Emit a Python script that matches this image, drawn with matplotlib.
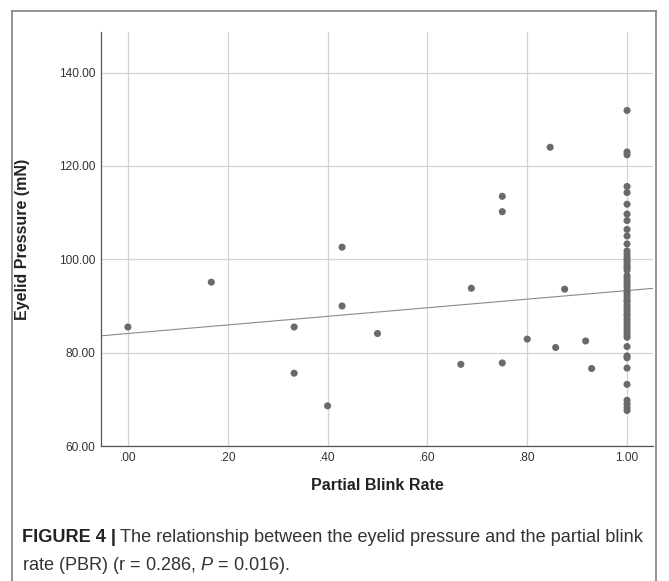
import matplotlib
matplotlib.use("Agg")
import matplotlib.pyplot as plt
from matplotlib.lines import Line2D

# Pontos fora de PBR = 1.00
pbr_outros = [0.0, 0.167, 0.333, 0.333, 0.40, 0.429, 0.429, 0.50, 0.667, 0.688,
              0.75, 0.75, 0.75, 0.80, 0.846, 0.857, 0.875, 0.917, 0.929]
pressao_outros = [85.5, 95.1, 85.5, 75.6, 68.6, 102.6, 90.0, 84.1, 77.5, 93.8,
                  113.5, 110.2, 77.8, 82.9, 124.0, 81.1, 93.6, 82.5, 76.6]

# Coluna em PBR = 1.00
pressao_pbr1 = [131.9, 123.0, 122.4, 115.6, 114.3, 111.8, 109.7, 108.3, 106.4, 105.0, 103.3,
                101.8, 101.1, 100.4, 99.8, 99.3, 98.7, 98.2, 97.7,
                96.5, 95.9, 95.2, 94.6, 94.0, 93.3, 92.7, 92.1, 91.4, 90.9, 90.2, 89.6,
                89.0, 88.3, 87.8, 87.1, 86.5, 85.9, 85.2, 84.6, 83.9, 83.3,
                81.3, 79.3, 78.9, 76.7, 73.2, 69.8, 69.0, 68.3, 67.6]

# Reta de regressao
reta_intercepto = 84.1
reta_inclinacao = 9.2

x_ticks = [0.0, 0.2, 0.4, 0.6, 0.8, 1.0]
x_labels = ['.00', '.20', '.40', '.60', '.80', '1.00']
y_ticks = [60, 80, 100, 120, 140]
y_labels = ['60.00', '80.00', '100.00', '120.00', '140.00']

pbr = pbr_outros + [1.0] * len(pressao_pbr1)
pressao = pressao_outros + pressao_pbr1

fonte = ['Liberation Sans', 'DejaVu Sans']
plt.rcParams['font.family'] = fonte
plt.rcParams['mathtext.fontset'] = 'custom'
plt.rcParams['mathtext.it'] = 'Liberation Sans:italic'
plt.rcParams['mathtext.rm'] = 'Liberation Sans'

fig = plt.figure(figsize=(6.69, 5.81), dpi=100)
ax = fig.add_axes([101 / 669, 1 - 446 / 581, 552 / 669, 414 / 581])

ax.scatter(pbr, pressao, s=26, color='#6a6a6a', edgecolors='none', zorder=3)

x0, x1 = -0.054, 1.052
ax.plot([x0, x1], [reta_intercepto + reta_inclinacao * x0, reta_intercepto + reta_inclinacao * x1],
        color='#8a8a8a', lw=0.8, zorder=2)

ax.set_xlim(x0, x1)
ax.set_ylim(60, 148.7)
ax.set_xticks(x_ticks)
ax.set_xticklabels(x_labels)
ax.set_yticks(y_ticks)
ax.set_yticklabels(y_labels)
ax.tick_params(length=0, labelsize=8.6, colors='#333333', pad=4)
ax.grid(True, color='#d3d3d3', lw=0.9)
ax.set_axisbelow(True)

for lado in ['top', 'right']:
    ax.spines[lado].set_visible(False)
for lado in ['left', 'bottom']:
    ax.spines[lado].set_color('#555555')
    ax.spines[lado].set_linewidth(0.9)

ax.set_xlabel('Partial Blink Rate', fontweight='bold', fontsize=11.5,
              color='#222222', va='center')
ax.xaxis.set_label_coords(0.5, (446 - 486) / 414)
ax.set_ylabel('Eyelid Pressure (mN)', fontweight='bold', fontsize=11.5,
              color='#222222', va='center')
ax.yaxis.set_label_coords((23 - 101) / 552, 0.5)

# Moldura externa
cor_moldura = '#808080'
xe, xd, yt = 12 / 669, 656 / 669, 1 - 11 / 581
for xs, ys in [([xe, xe], [0, yt]), ([xe, xd], [yt, yt]), ([xd, xd], [yt, 0])]:
    fig.add_artist(Line2D(xs, ys, color=cor_moldura, lw=1.2, transform=fig.transFigure))

# Legenda da figura
tam = 13.1
y1 = 1 - 538 / 581
y2 = 1 - 565 / 581
t_bold = fig.text(22 / 669, y1, 'FIGURE 4 |', fontweight='bold', fontsize=tam,
                  color='#222222', va='center', ha='left')
fig.canvas.draw()
bb = t_bold.get_window_extent()
fig.text(bb.x1 / fig.bbox.width + 4 / 669, y1,
         'The relationship between the eyelid pressure and the partial blink',
         fontsize=tam, color='#333333', va='center', ha='left')
fig.text(22 / 669, y2, r'rate (PBR) (r = 0.286, $P$ = 0.016).', fontsize=tam,
         color='#333333', va='center', ha='left')

fig.savefig('out.png', dpi=100)
